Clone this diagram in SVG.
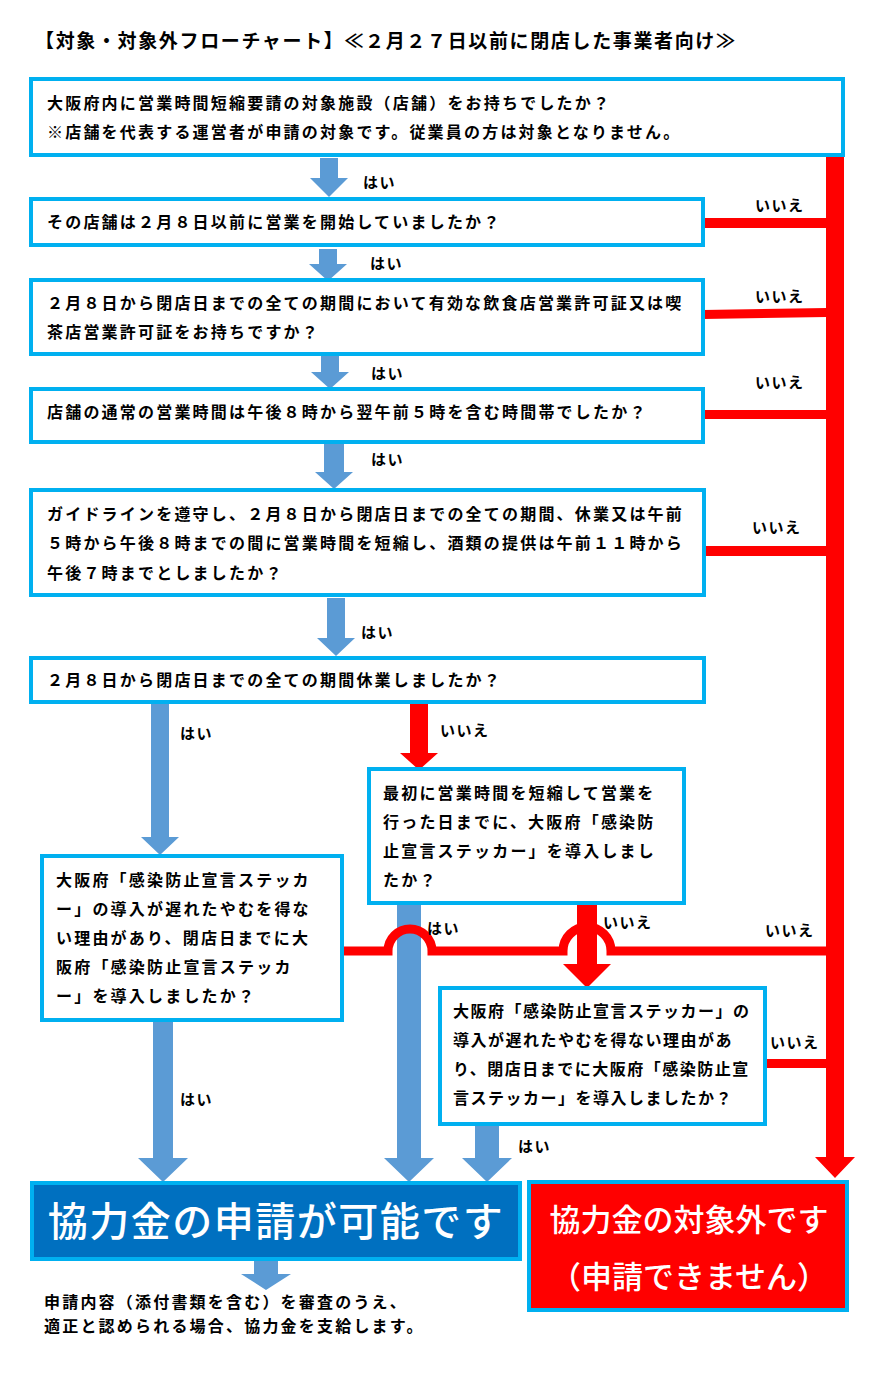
<svg xmlns="http://www.w3.org/2000/svg" width="888" height="1377" viewBox="0 0 888 1377">
<style>
.bg{fill:#fff}
.box{fill:#fff;stroke:#00B0F0;stroke-width:4}
.t{font-family:"Noto Sans CJK JP","Noto Sans",sans-serif;font-size:16px;font-weight:700;letter-spacing:2.2px;fill:#000}
.tn{letter-spacing:1.5px}
.l{font-family:"Noto Sans CJK JP","Noto Sans",sans-serif;font-size:15px;font-weight:700;letter-spacing:1.5px;fill:#000}
.ttl{font-family:"Noto Sans CJK JP","Noto Sans",sans-serif;font-size:19px;font-weight:700;fill:#000}
.ba{fill:#5B9BD5}
.ra{fill:#FF0000}
.rl{fill:none;stroke:#FF0000;stroke-width:9}
.res{font-family:"Noto Sans CJK JP","Noto Sans",sans-serif;fill:#fff;font-weight:500}
</style>
<rect class="bg" x="0" y="0" width="888" height="1377"/>
<text class="ttl" x="35" y="48" textLength="700" lengthAdjust="spacing">【対象・対象外フローチャート】≪２月２７日以前に閉店した事業者向け≫</text>

<g id="connectors">
  <!-- blue yes arrows -->
  <polygon class="ba" points="320,158 338,158 338,178 348,178 329,197 310,178 320,178"/>
  <polygon class="ba" points="319,249 337,249 337,264 347,264 328,281 309,264 319,264"/>
  <polygon class="ba" points="321,356 339,356 339,372 349,372 330,389 311,372 321,372"/>
  <polygon class="ba" points="324,444 344,444 344,472 353,472 334,489 315,472 324,472"/>
  <polygon class="ba" points="327,598 345,598 345,638 355,638 336,656 317,638 327,638"/>
  <polygon class="ba" points="151,703 169,703 169,837 179,837 160,855 141,837 151,837"/>
  <polygon class="ba" points="153,1021 173,1021 173,1158 188,1158 163,1182 138,1158 153,1158"/>
  <polygon class="ba" points="397,904 421,904 421,1158 434,1158 409,1182 384,1158 397,1158"/>
  <polygon class="ba" points="475,1125 499,1125 499,1158 512,1158 487,1182 462,1158 475,1158"/>
  <polygon class="ba" points="254,1260 278,1260 278,1274 291,1274 266,1290 241,1274 254,1274"/>
  <!-- red no connectors -->
  <rect class="ra" x="703" y="218" width="124" height="10"/>
  <polygon class="ra" points="703,310 827,308 827,317 703,319"/>
  <rect class="ra" x="703" y="410" width="124" height="9"/>
  <rect class="ra" x="704" y="546" width="123" height="10"/>
  <rect class="ra" x="765" y="1059" width="62" height="9"/>
  <polygon class="ra" points="410,703 428,703 428,753 438,753 419,770 400,753 410,753"/>
  <polygon class="ra" points="577,904 597,904 597,964 611,964 587,988 563,964 577,964"/>
  <polygon class="ra" points="826,157 844,157 844,1157 855,1157 835,1178 815,1157 826,1157"/>
  <path class="rl" d="M342,951 H388 A22,22 0 0 1 432,951 H563 A24,24 0 0 1 611,951 H827"/>
  <!-- labels -->
  <text class="l" x="363" y="188">はい</text>
  <text class="l" x="370" y="269">はい</text>
  <text class="l" x="371" y="379">はい</text>
  <text class="l" x="371" y="465">はい</text>
  <text class="l" x="361" y="638">はい</text>
  <text class="l" x="180" y="739">はい</text>
  <text class="l" x="427" y="934">はい</text>
  <text class="l" x="180" y="1105">はい</text>
  <text class="l" x="518" y="1152">はい</text>
  <text class="l" x="755" y="211">いいえ</text>
  <text class="l" x="755" y="302">いいえ</text>
  <text class="l" x="755" y="388">いいえ</text>
  <text class="l" x="752" y="533">いいえ</text>
  <text class="l" x="440" y="736">いいえ</text>
  <text class="l" x="603" y="928">いいえ</text>
  <text class="l" x="765" y="936">いいえ</text>
  <text class="l" x="770" y="1048">いいえ</text>
</g>

<g id="q1">
  <rect class="box" x="31" y="79" width="812" height="76"/>
  <text class="t" x="47" y="109">大阪府内に営業時間短縮要請の対象施設（店舗）をお持ちでしたか？</text>
  <text class="t" x="47" y="138">※店舗を代表する運営者が申請の対象です。従業員の方は対象となりません。</text>
</g>
<g id="q2">
  <rect class="box" x="31" y="199" width="672" height="46"/>
  <text class="t" x="47" y="228">その店舗は２月８日以前に営業を開始していましたか？</text>
</g>
<g id="q3">
  <rect class="box" x="31" y="280" width="672" height="74"/>
  <text class="t" x="47" y="309">２月８日から閉店日までの全ての期間において有効な飲食店営業許可証又は喫</text>
  <text class="t" x="47" y="338">茶店営業許可証をお持ちですか？</text>
</g>
<g id="q4">
  <rect class="box" x="31" y="389" width="672" height="53"/>
  <text class="t" x="47" y="418">店舗の通常の営業時間は午後８時から翌午前５時を含む時間帯でしたか？</text>
</g>
<g id="q5">
  <rect class="box" x="31" y="490" width="673" height="105"/>
  <text class="t" x="47" y="520">ガイドラインを遵守し、２月８日から閉店日までの全ての期間、休業又は午前</text>
  <text class="t" x="47" y="549">５時から午後８時までの間に営業時間を短縮し、酒類の提供は午前１１時から</text>
  <text class="t" x="47" y="579">午後７時までとしましたか？</text>
</g>
<g id="q6">
  <rect class="box" x="31" y="658" width="673" height="44"/>
  <text class="t" x="47" y="686">２月８日から閉店日までの全ての期間休業しましたか？</text>
</g>
<g id="q7">
  <rect class="box" x="369" y="769" width="315" height="134"/>
  <text class="t" x="383" y="799">最初に営業時間を短縮して営業を</text>
  <text class="t" x="383" y="828">行った日までに、大阪府「感染防</text>
  <text class="t" x="383" y="857">止宣言ステッカー」を導入しまし</text>
  <text class="t" x="383" y="886">たか？</text>
</g>
<g id="q8">
  <rect class="box" x="42" y="856" width="300" height="164"/>
  <text class="t" x="56" y="886">大阪府「感染防止宣言ステッカ</text>
  <text class="t" x="56" y="915">ー」の導入が遅れたやむを得な</text>
  <text class="t" x="56" y="944">い理由があり、閉店日までに大</text>
  <text class="t" x="56" y="973">阪府「感染防止宣言ステッカ</text>
  <text class="t" x="56" y="1002">ー」を導入しましたか？</text>
</g>
<g id="q9">
  <rect class="box" x="440" y="988" width="325" height="136"/>
  <text class="t tn" x="453" y="1017">大阪府「感染防止宣言ステッカー」の</text>
  <text class="t tn" x="453" y="1046">導入が遅れたやむを得ない理由があ</text>
  <text class="t tn" x="453" y="1075">り、閉店日までに大阪府「感染防止宣</text>
  <text class="t tn" x="453" y="1104">言ステッカー」を導入しましたか？</text>
</g>
<g id="result-ok">
  <rect x="32" y="1183" width="488" height="76" fill="#0070C0" stroke="#00B0F0" stroke-width="4"/>
  <text class="res" x="276" y="1236" font-size="40" text-anchor="middle" letter-spacing="1.5">協力金の申請が可能です</text>
</g>
<g id="result-ng">
  <rect x="529" y="1182" width="318" height="128" fill="#FF0000" stroke="#00B0F0" stroke-width="4"/>
  <text class="res" x="689" y="1231" font-size="31" text-anchor="middle">協力金の対象外です</text>
  <text class="res" x="689" y="1288" font-size="31" text-anchor="middle">（申請できません）</text>
</g>
<g id="note">
  <text class="t" x="44" y="1308">申請内容（添付書類を含む）を審査のうえ、</text>
  <text class="t" x="44" y="1332">適正と認められる場合、協力金を支給します。</text>
</g>
</svg>
